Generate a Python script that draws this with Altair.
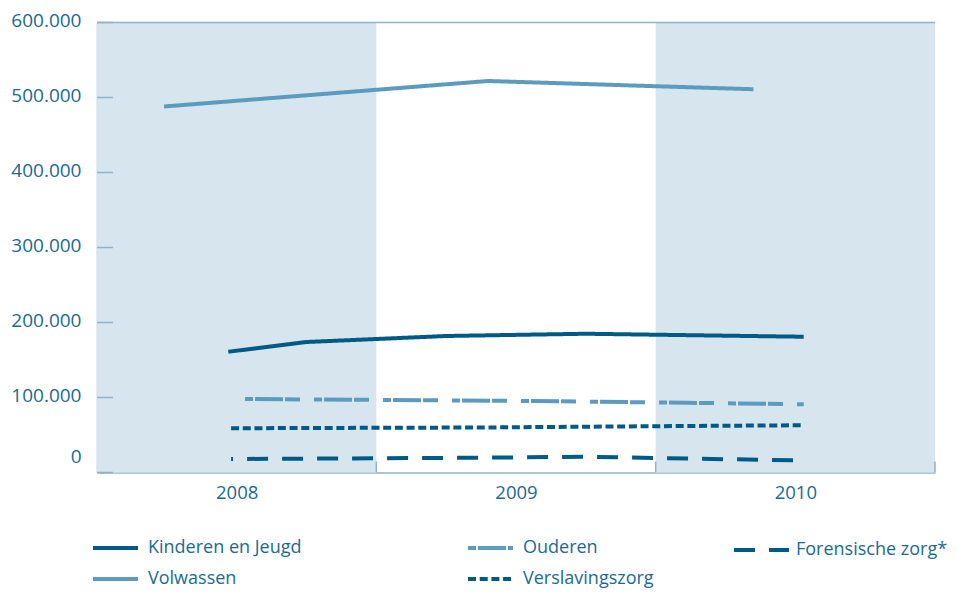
import altair as alt
import pandas as pd

# ---------------- data ----------------
years = [2008, 2009, 2010]
shaded_years = [2008, 2010]
y_ticks = [0, 100000, 200000, 300000, 400000, 500000, 600000]

kinderen_x = [2007.97, 2008.25, 2008.75, 2009.25, 2010.03]
kinderen_y = [161000, 174000, 182000, 185000, 181000]

volwassen_x = [2007.74, 2008.90, 2009.85]
volwassen_y = [488000, 522000, 511000]

ouderen_x = [2008.03, 2009.00, 2009.61, 2010.03]
ouderen_y = [98000, 95500, 93000, 91000]

verslaving_x = [2007.98, 2008.87, 2009.60, 2010.03]
verslaving_y = [59000, 60000, 62000, 63000]

forensisch_x = [2007.98, 2008.87, 2009.24, 2010.03]
forensisch_y = [18000, 19700, 21000, 16000]

# ---------------- style ----------------
FONT = "Open Sans"
TEXT = "#1b6a93"
DARK = "#005a87"
LIGHT = "#5b9bc0"
BAND = "#d7e5ee"
AXIS = "#8fb3cb"
W, H = 838, 450


def frame(xs, ys, name):
    return pd.DataFrame({"jaar": xs, "aantal": ys, "serie": name})


df_a = pd.concat([frame(kinderen_x, kinderen_y, "Kinderen en Jeugd"),
                  frame(volwassen_x, volwassen_y, "Volwassen")])
df_b = pd.concat([frame(ouderen_x, ouderen_y, "Ouderen"),
                  frame(verslaving_x, verslaving_y, "Verslavingszorg")])
df_c = frame(forensisch_x, forensisch_y, "Forensische zorg*")

xscale = alt.Scale(domain=[2007.5, 2010.5], nice=False, zero=False)
yscale = alt.Scale(domain=[0, 600000], nice=False)

xaxis = alt.Axis(values=years, format="d", title=None, ticks=False, grid=False,
                 labelFont=FONT, labelFontSize=18.5, labelColor=TEXT,
                 labelPadding=11, labelFlush=False,
                 domainColor=AXIS, domainWidth=1.5)
yaxis = alt.Axis(values=y_ticks, title=None, ticks=False, grid=False,
                 labelExpr="replace(format(datum.value, ','), ',', '.')",
                 labelFont=FONT, labelFontSize=19, labelColor=TEXT,
                 labelPadding=16, labelBaseline="middle",
                 labelOffset={"condition": {"test": "datum.value === 0", "value": -16}, "value": -2},
                 domainColor=AXIS, domainWidth=1.5)


def X(field):
    return alt.X(field, scale=xscale, axis=xaxis)


def Y(field):
    return alt.Y(field, scale=yscale, axis=yaxis)


bands = alt.Chart(pd.DataFrame({"jaar": shaded_years})).transform_calculate(
    start="datum.jaar - 0.5", end="datum.jaar + 0.5"
).mark_rect(color=BAND).encode(
    x=X("start:Q"), x2="end:Q",
    y=alt.value(0), y2=alt.value(H)
)

top_line = alt.Chart(pd.DataFrame({"jaar": years})).transform_aggregate(
    lo="min(jaar)", hi="max(jaar)"
).transform_calculate(
    a="datum.lo - 0.5", b="datum.hi + 0.5"
).mark_rule(color=AXIS, strokeWidth=1.5).encode(
    x=X("a:Q"), x2="b:Q", y=alt.value(0)
)

x_ticks = alt.Chart(pd.DataFrame({"jaar": years})).transform_calculate(
    grens="datum.jaar + 0.5"
).mark_rule(color=AXIS, strokeWidth=1.5).encode(
    x=X("grens:Q"), y=alt.value(H - 11), y2=alt.value(H)
)

y_tick_marks = alt.Chart(pd.DataFrame({"aantal": y_ticks})).mark_rule(
    color=AXIS, strokeWidth=1.5
).encode(
    y=Y("aantal:Q"), x=alt.value(0), x2=alt.value(16)
)


def legend(lx, sym_len, label_offset):
    return alt.Legend(orient="none", legendX=lx, legendY=516, title=None,
                      direction="vertical", symbolType="M-3,0H3",
                      symbolSize=(sym_len / 3) ** 2, symbolStrokeWidth=4,
                      labelFont=FONT, labelFontSize=18, labelColor=TEXT,
                      labelOffset=label_offset, rowPadding=12, padding=0)


def lines(df, names, colors, dashes, lx, sym_len, label_offset, **mark):
    lg = legend(lx, sym_len, label_offset)
    return alt.Chart(df).mark_line(strokeWidth=4, strokeJoin="round", **mark).encode(
        x=X("jaar:Q"), y=Y("aantal:Q"),
        color=alt.Color("serie:N", scale=alt.Scale(domain=names, range=colors), legend=lg),
        strokeDash=alt.StrokeDash("serie:N", scale=alt.Scale(domain=names, range=dashes), legend=lg),
    )


layer_a = lines(df_a, ["Kinderen en Jeugd", "Volwassen"], [DARK, LIGHT],
                [[1, 0], [1, 0]], 9, 45, 23)
layer_b = lines(df_b, ["Ouderen", "Verslavingszorg"], [LIGHT, DARK],
                [[8, 2, 28, 2, 15, 14], [8, 3.7]], 384, 45, 23)
layer_c = lines(df_c, ["Forensische zorg*"], [DARK],
                [[21, 14]], 653, 55, 23, strokeDashOffset=19)

chart = alt.layer(bands, x_ticks, y_tick_marks, top_line, layer_b, layer_c, layer_a).resolve_scale(
    color="independent", strokeDash="independent"
).properties(
    width=W, height=H,
    autosize=alt.AutoSizeParams(type="none"),
    padding={"left": 89, "top": 14.5, "right": 13, "bottom": 118},
).configure_view(stroke=None)

chart.save("out.html", embed_options={"renderer": "svg", "actions": False})
